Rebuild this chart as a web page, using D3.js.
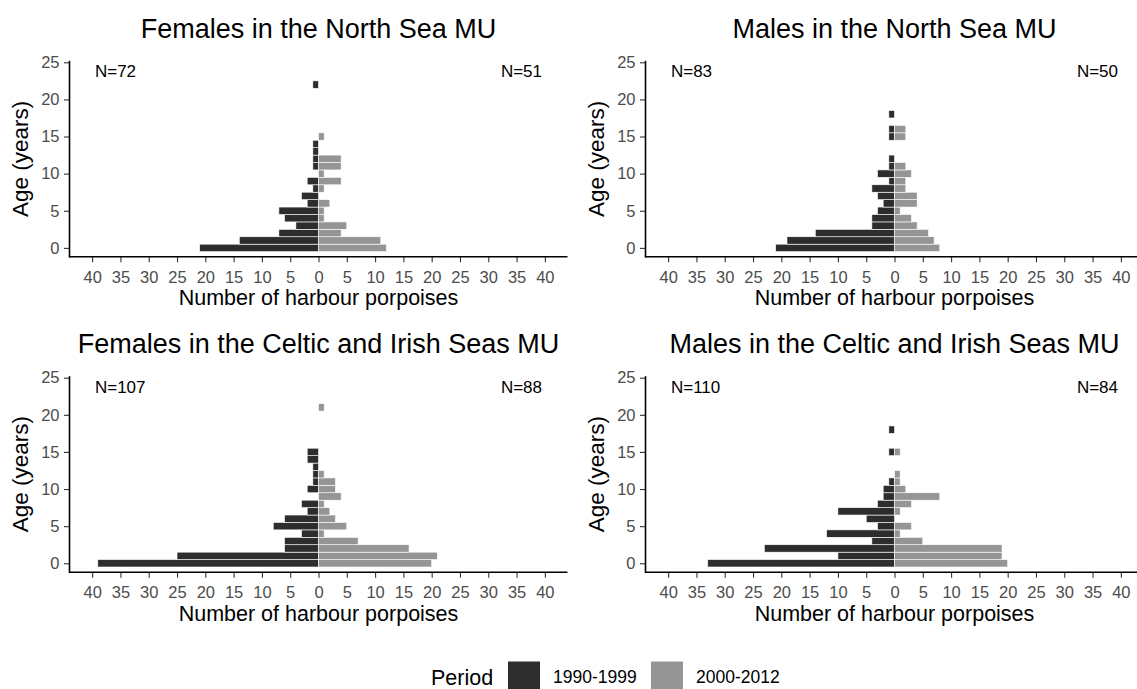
<!DOCTYPE html>
<html>
<head>
<meta charset="utf-8">
<script src="https://cdn.jsdelivr.net/npm/d3@7"></script>
<style>
  html, body { margin: 0; padding: 0; background: #fff; }
  svg { display: block; font-family: "Liberation Sans", Arial, Helvetica, sans-serif; }
</style>
</head>
<body>
<svg id="chart" width="1137" height="689"></svg>
<script>
// Age classes (years)
const ages = d3.range(0, 23);

// Counts per age class, index = age in years
const nsFemales1990 = [21,14,7,4,6,7,2,3,1,2,0,1,1,1,1,0,0,0,0,0,0,0,1];
const nsFemales2000 = [12,11,4,5,1,1,2,0,1,4,1,4,4,0,0,1,0,0,0,0,0,0,0];
const nsMales1990   = [21,19,14,4,4,3,2,3,4,1,3,1,1,0,0,1,1,0,1,0,0,0,0];
const nsMales2000   = [8,7,6,4,3,1,4,4,2,2,3,2,0,0,0,2,2,0,0,0,0,0,0];
const ciFemales1990 = [39,25,6,6,3,8,6,2,3,0,2,1,1,1,2,2,0,0,0,0,0,0,0];
const ciFemales2000 = [20,21,16,7,1,5,3,2,1,4,3,3,1,0,0,0,0,0,0,0,0,1,0];
const ciMales1990   = [33,10,23,4,12,3,5,10,3,2,2,1,0,0,0,1,0,0,1,0,0,0,0];
const ciMales2000   = [20,19,19,5,1,3,0,1,3,8,2,1,1,0,0,1,0,0,0,0,0,0,0];

const panelTitles = [
  "Females in the North Sea MU",
  "Males in the North Sea MU",
  "Females in the Celtic and Irish Seas MU",
  "Males in the Celtic and Irish Seas MU"
];
const periods = ["1990-1999", "2000-2012"];
const xTicks = [-40,-35,-30,-25,-20,-15,-10,-5,0,5,10,15,20,25,30,35,40];
const yTicks = [0,5,10,15,20,25];

const colors = { "1990-1999": "#2d2d2d", "2000-2012": "#959595" };

const panels = [
  { title: panelTitles[0], early: nsFemales1990, late: nsFemales2000 },
  { title: panelTitles[1], early: nsMales1990,   late: nsMales2000 },
  { title: panelTitles[2], early: ciFemales1990, late: ciFemales2000 },
  { title: panelTitles[3], early: ciMales1990,   late: ciMales2000 }
];

const svg = d3.select("#chart");

// panel placement
const colLeft = [69.5, 645.5];
const rowTop = [60.8, 376.2];
const plotW = 498, plotH = 196;

panels.forEach((p, i) => {
  const col = i % 2, row = Math.floor(i / 2);
  const left = colLeft[col], top = rowTop[row];

  const x = d3.scaleLinear().domain([-44, 44]).range([left, left + plotW]);
  const y = d3.scaleLinear().domain([-1.2, 25.2]).range([top + plotH, top]);
  const g = svg.append("g");

  const rows = [];
  ages.forEach((a, k) => {
    if (p.early[k] > 0) rows.push({ age: a, period: periods[0], from: -p.early[k], to: 0 });
    if (p.late[k] > 0)  rows.push({ age: a, period: periods[1], from: 0, to: p.late[k] });
  });

  g.selectAll("rect.bar").data(rows).enter().append("rect")
    .attr("class", "bar")
    .attr("x", d => x(d.from))
    .attr("width", d => x(d.to) - x(d.from))
    .attr("y", d => y(d.age + 0.5))
    .attr("height", d => y(d.age - 0.5) - y(d.age + 0.5))
    .attr("fill", d => colors[d.period])
    .attr("stroke", "#ffffff")
    .attr("stroke-width", 0.6);

  // sample sizes
  const nEarly = d3.sum(p.early), nLate = d3.sum(p.late);
  g.append("text").attr("x", x(-39.5)).attr("y", y(23.8)).attr("dy", "0.35em")
    .attr("font-size", 17).attr("fill", "#000").text("N=" + nEarly);
  g.append("text").attr("x", x(39.5)).attr("y", y(23.8)).attr("dy", "0.35em")
    .attr("text-anchor", "end").attr("font-size", 17).attr("fill", "#000").text("N=" + nLate);

  // x axis
  const xa = g.append("g").attr("transform", `translate(0,${top + plotH})`)
    .call(d3.axisBottom(x).tickValues(xTicks).tickFormat(d => Math.abs(d)).tickSize(5.5).tickPadding(8.5));
  // y axis
  const ya = g.append("g").attr("transform", `translate(${left},0)`)
    .call(d3.axisLeft(y).tickValues(yTicks).tickSize(5.5).tickPadding(4.5));

  [xa, ya].forEach(ax => {
    ax.select(".domain").remove();
    ax.selectAll(".tick line").attr("stroke", "#333333").attr("stroke-width", 1.1);
    ax.selectAll(".tick text").attr("fill", "#4d4d4d").attr("font-size", 16.5)
      .attr("font-family", "Liberation Sans, Arial, sans-serif");
  });

  g.append("line").attr("x1", left).attr("x2", left + plotW)
    .attr("y1", top + plotH).attr("y2", top + plotH)
    .attr("stroke", "#000").attr("stroke-width", 1.6);
  g.append("line").attr("x1", left).attr("x2", left)
    .attr("y1", top).attr("y2", top + plotH + 0.8)
    .attr("stroke", "#000").attr("stroke-width", 1.6);

  // titles
  g.append("text").attr("x", x(0)).attr("y", top - 22.8).attr("text-anchor", "middle")
    .attr("font-size", 27).attr("fill", "#000").text(p.title);
  g.append("text").attr("x", x(0)).attr("y", top + plotH + 48.5).attr("text-anchor", "middle")
    .attr("font-size", 21.5).attr("fill", "#000").text("Number of harbour porpoises");
  g.append("text")
    .attr("transform", `translate(${left - 41.2},${top + plotH / 2}) rotate(-90)`)
    .attr("text-anchor", "middle").attr("font-size", 22.5).attr("fill", "#000")
    .text("Age (years)");
});

// legend
const leg = svg.append("g");
leg.append("text").attr("x", 431).attr("y", 685).attr("font-size", 21.5).attr("fill", "#000").text("Period");
const legItems = [
  { label: periods[0], sx: 508, tx: 553 },
  { label: periods[1], sx: 651, tx: 696 }
];
legItems.forEach(it => {
  leg.append("rect").attr("x", it.sx).attr("y", 661.5).attr("width", 32).attr("height", 29)
    .attr("fill", colors[it.label]);
  leg.append("text").attr("x", it.tx).attr("y", 682.5).attr("font-size", 17.5)
    .attr("fill", "#000").text(it.label);
});
</script>
</body>
</html>
